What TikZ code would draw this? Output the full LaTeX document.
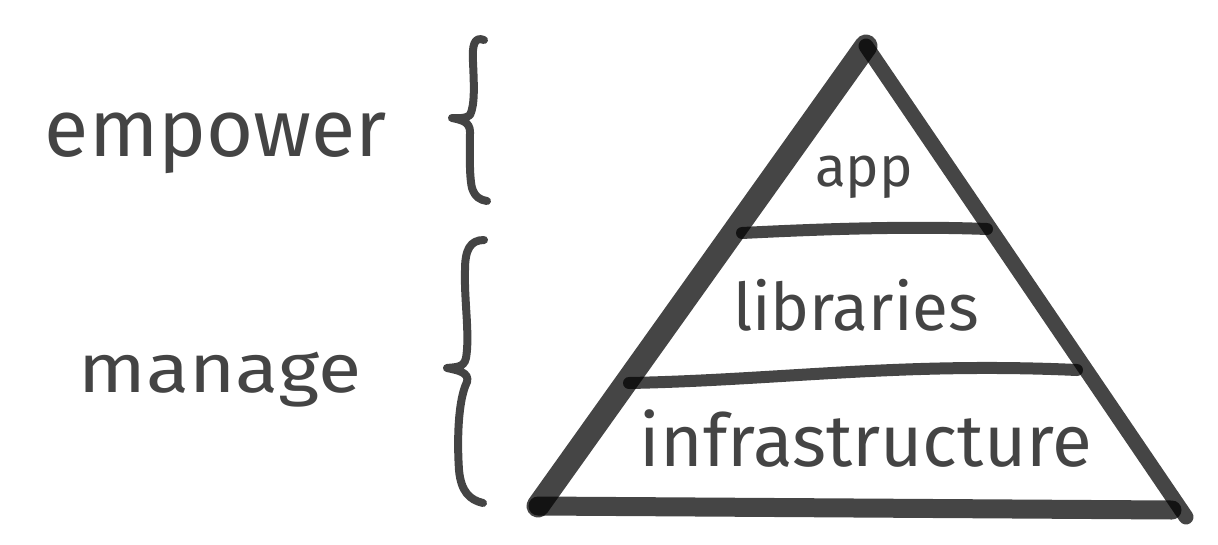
\documentclass[tikz,border=0pt]{standalone}
\usepackage{fontspec}
\setmainfont{Fira Sans}
\usepackage{graphicx}
\definecolor{ink}{HTML}{444444}
\begin{document}
\begin{tikzpicture}[x=1pt,y=-1pt,
  stroke/.style={line cap=round, line join=round, draw=black, draw opacity=0.73},
  bracepath/.style={line cap=round, line join=round, draw=ink, line width=8pt},
  word/.style={text=ink, inner sep=0pt, anchor=base, font=\fontsize{60}{60}\selectfont}]
\useasboundingbox (0,0) rectangle (1218,544);

% pyramid corners
\coordinate (apex) at (866,46);
\coordinate (bl) at (538,506);
\coordinate (br) at (1186,517);
\coordinate (bbr) at (1172,510);

% outline: heavy left side, lighter right side, heavy base
\draw[stroke, line width=23pt] (apex) -- (bl);
\draw[stroke, line width=15pt] (apex) -- (br);
\draw[stroke, line width=19pt] (bl) -- (bbr);

% layer dividers
\coordinate (d1l) at (742,233);
\coordinate (d1r) at (987,229);
\draw[stroke, line width=12pt] (d1l) .. controls (820,229) and (910,226) .. (d1r);
\coordinate (d2l) at (629,383);
\coordinate (d2r) at (1077,370);
\draw[stroke, line width=12pt] (d2l) .. controls (780,380) and (900,362) .. (d2r);

% layer labels
\node[word] (app) at (864,186) {\resizebox{98pt}{!}{app}};
\node[word] (libraries) at (856,330) {\resizebox{246pt}{!}{libraries}};
\node[word] (infra) at (866,466) {\resizebox{452pt}{!}{infrastructure}};

% side labels
\node[word] (empower) at (216,156) {\resizebox{342pt}{!}{empower}};
\node[word] (manage) at (220,392) {\resizebox{282pt}{1.15\height}{manage}};

% braces
\coordinate (b1top) at (484,40);
\coordinate (b1tip) at (452,118);
\coordinate (b1bot) at (487,201);
\draw[bracepath] (b1top) .. controls (474,36) and (472,46) .. (473,62)
  .. controls (474,85) and (475,105) .. (470,115)
  .. controls (466,119) and (458,118) .. (b1tip)
  .. controls (462,120) and (470,122) .. (470,132)
  .. controls (470,150) and (469,175) .. (472,188)
  .. controls (475,197) and (480,200) .. (b1bot);
\coordinate (b2top) at (484,240);
\coordinate (b2tip) at (447,368);
\coordinate (b2bot) at (483,503);
\draw[bracepath] (b2top) .. controls (470,240) and (465,250) .. (465,270)
  .. controls (464,300) and (470,335) .. (466,358)
  .. controls (464,368) and (455,367) .. (b2tip)
  .. controls (456,370) and (470,372) .. (467,382)
  .. controls (458,400) and (457,440) .. (459,470)
  .. controls (461,492) and (470,500) .. (b2bot);
\end{tikzpicture}
\end{document}
